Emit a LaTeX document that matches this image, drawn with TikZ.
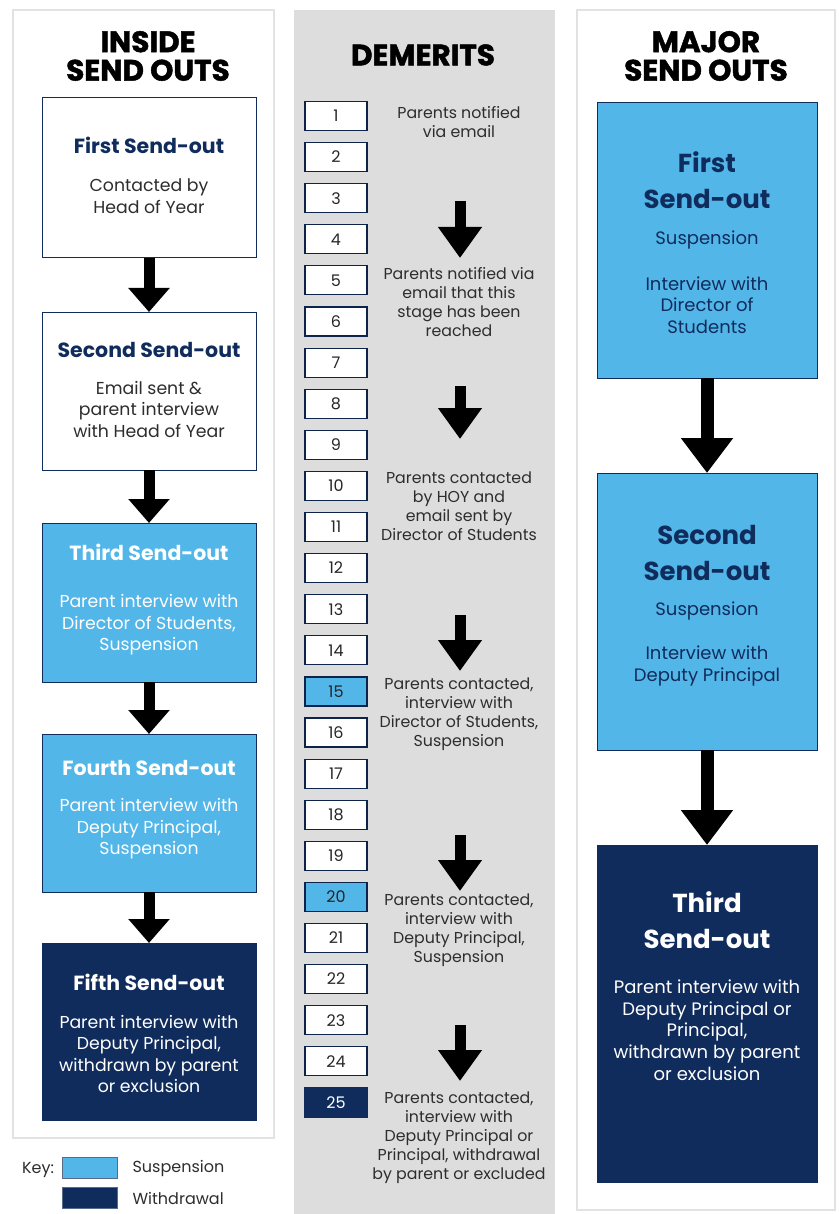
\documentclass[tikz,border=0pt]{standalone}
\usepackage{fontspec}
\setmainfont{Poppins}
\newfontfamily\heavyfont[BoldFeatures={FakeBold=1.6}]{Poppins}
\usetikzlibrary{arrows.meta, positioning}
\definecolor{suspblue}{RGB}{82,182,232}
\definecolor{withnavy}{RGB}{16,44,92}
\definecolor{panelgray}{RGB}{221,221,221}
\definecolor{edgegray}{RGB}{226,226,226}
\definecolor{textgray}{RGB}{45,45,45}

\begin{document}
\begin{tikzpicture}[x=1pt, y=-1pt,
    panel/.style={draw=edgegray, line width=1.5pt, fill=white},
    heading/.style={font=\heavyfont\fontsize{29.5}{28.5}\selectfont\bfseries, align=center},
    sendbox/.style={rectangle, minimum width=214pt, draw=withnavy, line width=1pt,
                    inner sep=0pt, outer sep=0pt},
    majorbox/.style={sendbox, minimum width=220pt, fill=suspblue},
    boxtitle/.style={font=\fontsize{20.5}{23}\selectfont\bfseries, align=center},
    boxbody/.style={font=\fontsize{17.3}{21.5}\selectfont, align=center},
    majtitle/.style={font=\fontsize{26}{36}\selectfont\bfseries, align=center},
    majbody/.style={font=\fontsize{18}{21.7}\selectfont, align=center},
    insarrow/.style={line width=11pt, -{Triangle[width=40pt, length=24pt]}},
    midarrow/.style={line width=11pt, -{Triangle[width=42pt, length=31pt]}},
    majarrow/.style={line width=13pt, -{Triangle[width=50pt, length=35pt]}},
    midtext/.style={font=\fontsize{15.8}{19}\selectfont, text=textgray, align=center},
    demplain/.style={rectangle, minimum width=62pt, minimum height=29pt, inner sep=0pt,
                     draw=withnavy!80!black, line width=1.2pt, fill=white, text=black!85,
                     font=\fontsize{16}{18}\selectfont},
    demsusp/.style={demplain, fill=suspblue},
    demwith/.style={demplain, fill=withnavy, draw=withnavy, text=white},
    keybox/.style={rectangle, minimum width=55pt, minimum height=21pt, inner sep=0pt,
                   draw=withnavy!70, line width=0.8pt},
    keytext/.style={font=\fontsize{16}{18}\selectfont, text=textgray, inner sep=0pt}]
  \useasboundingbox (0,0) rectangle (838,1214);

  % panels
  \draw[panel] (13,10) rectangle (274,1138);
  \fill[panelgray] (294,10) rectangle (555,1214);
  \draw[panel] (577,10) rectangle (835,1210);

  % headings
  \node[heading] (insidehd) at (148,56) {INSIDE\\SEND OUTS};
  \node[heading] (demhd) at (423,55) {DEMERITS};
  \node[heading] (majorhd) at (706,56) {MAJOR\\SEND OUTS};

  % inside send outs
  \node[sendbox, minimum height=160pt, fill=white] (ib1) at (149,178) {};
  \node[sendbox, minimum height=158pt, fill=white] (ib2) at (149,391) {};
  \node[sendbox, minimum height=159pt, fill=suspblue] (ib3) at (149,602.5) {};
  \node[sendbox, minimum height=158pt, fill=suspblue] (ib4) at (149,813) {};
  \node[sendbox, minimum height=177pt, fill=withnavy] (ib5) at (149,1031.5) {};
  \node[boxtitle, text=withnavy] (ib1t) at (149,145) {First Send-out};
  \node[boxbody, text=textgray] (ib1b) at (149,196) {Contacted by\\Head of Year};
  \node[boxtitle, text=withnavy] (ib2t) at (149,350) {Second Send-out};
  \node[boxbody, text=textgray] (ib2b) at (149,409) {Email sent \&\\parent interview\\with Head of Year};
  \node[boxtitle, text=white] (ib3t) at (149,552) {Third Send-out};
  \node[boxbody, text=white] (ib3b) at (149,625) {Parent interview with\\Director of Students,\\Suspension};
  \node[boxtitle, text=white] (ib4t) at (149,768) {Fourth Send-out};
  \node[boxbody, text=white] (ib4b) at (149,829) {Parent interview with\\Deputy Principal,\\Suspension};
  \node[boxtitle, text=white] (ib5t) at (149,982) {Fifth Send-out};
  \node[boxbody, text=white] (ib5b) at (149,1054) {Parent interview with\\Deputy Principal,\\withdrawn by parent\\or exclusion};
  \draw[insarrow] (ib1) -- (ib2);
  \draw[insarrow] (ib2) -- (ib3);
  \draw[insarrow] (ib3) -- (ib4);
  \draw[insarrow] (ib4) -- (ib5);

  % key
  \node[keytext] (keylbl) at (38,1170) {Key:};
  \node[keybox, fill=suspblue] (keysusp) at (89.5,1168) {};
  \node[keybox, fill=withnavy] (keywith) at (89.5,1198) {};
  \node[keytext, right=15pt of keysusp] (keysusptxt) {Suspension};
  \node[keytext, right=15pt of keywith] (keywithtxt) {Withdrawal};

  % demerits
  \foreach \n in {1,...,25}{
    \def\dstyle{demplain}
    \ifnum\n=15 \def\dstyle{demsusp}\fi
    \ifnum\n=20 \def\dstyle{demsusp}\fi
    \ifnum\n=25 \def\dstyle{demwith}\fi
    \node[\dstyle] (d\n) at (336,{116+41.1*(\n-1)}) {\n};
  }
  \node[midtext] (mt1) at (459,122) {Parents notified\\via email};
  \node[midtext] (mt2) at (459,302) {Parents notified via\\email that this\\stage has been\\reached};
  \node[midtext] (mt3) at (459,506) {Parents contacted\\by HOY and\\email sent by\\Director of Students};
  \node[midtext] (mt4) at (459,714) {Parents contacted,\\interview with\\Director of Students,\\Suspension};
  \node[midtext] (mt5) at (459,930) {Parents contacted,\\interview with\\Deputy Principal,\\Suspension};
  \node[midtext] (mt6) at (459,1138) {Parents contacted,\\interview with\\Deputy Principal or\\Principal, withdrawal\\by parent or excluded};
  \foreach \ys/\ye [count=\i] in {201/258, 386/439, 615/671, 835/891, 1025/1081}{
    \coordinate (ma\i s) at (460,\ys);
    \coordinate (ma\i e) at (460,\ye);
    \draw[midarrow] (ma\i s) -- (ma\i e);
  }

  % major send outs
  \node[majorbox, minimum height=275pt] (mb1) at (707,240.5) {};
  \node[majorbox, minimum height=277pt] (mb2) at (707,611.5) {};
  \node[majorbox, minimum height=337pt, fill=withnavy] (mb3) at (707,1013.5) {};
  \node[majtitle, text=withnavy] (mb1t) at (707,180) {First\\Send-out};
  \node[majbody, text=withnavy] (mb1s) at (707,240) {Suspension};
  \node[majbody, text=withnavy] (mb1b) at (707,305) {Interview with\\Director of\\Students};
  \node[majtitle, text=withnavy] (mb2t) at (707,552.5) {Second\\Send-out};
  \node[majbody, text=withnavy] (mb2s) at (707,611) {Suspension};
  \node[majbody, text=withnavy] (mb2b) at (707,666) {Interview with\\Deputy Principal};
  \node[majtitle, text=white] (mb3t) at (707,920.5) {Third\\Send-out};
  \node[majbody, text=white] (mb3b) at (707,1030) {Parent interview with\\Deputy Principal or\\Principal,\\withdrawn by parent\\or exclusion};
  \draw[majarrow] (mb1) -- (mb2);
  \draw[majarrow] (mb2) -- (mb3);
\end{tikzpicture}
\end{document}
